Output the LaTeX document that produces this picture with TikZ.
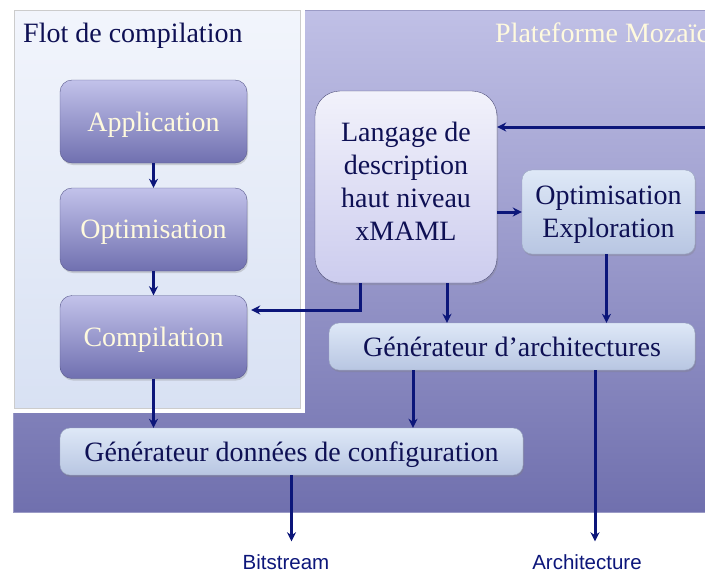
\documentclass[tikz,border=0pt]{standalone}
\usepackage{fontspec}
\setmainfont{Liberation Serif}
\newfontfamily\labelfont{Liberation Sans}
\usetikzlibrary{arrows.meta,shadows}

\definecolor{navy}{RGB}{12,22,122}
\definecolor{inktext}{RGB}{14,16,84}
\definecolor{cream}{RGB}{255,250,222}
\definecolor{platTop}{RGB}{192,192,230}
\definecolor{platBot}{RGB}{112,112,174}
\definecolor{flotTop}{RGB}{242,245,252}
\definecolor{flotBot}{RGB}{216,225,243}
\definecolor{purpTop}{RGB}{194,194,234}
\definecolor{purpBot}{RGB}{112,112,176}
\definecolor{lilaTop}{RGB}{242,242,251}
\definecolor{lilaBot}{RGB}{204,204,238}
\definecolor{blueTop}{RGB}{222,232,247}
\definecolor{blueBot}{RGB}{184,198,226}

\tikzset{
  boxfont/.style={font=\fontsize{28}{33}\selectfont},
  purplebox/.style={rectangle, rounded corners=12pt, draw=purpBot!80!black,
    top color=purpTop, bottom color=purpBot, text=cream, boxfont, text depth=0pt,
    minimum width=187pt, minimum height=83pt,
    drop shadow={opacity=0.3, shadow xshift=1pt, shadow yshift=-2pt}},
  bluebox/.style={rectangle, rounded corners=10pt, draw=blueBot!85!black,
    top color=blueTop, bottom color=blueBot, text=inktext, boxfont, text depth=0pt,
    drop shadow={opacity=0.3, shadow xshift=1pt, shadow yshift=-2pt}},
  flow/.style={draw=navy, line width=3pt, -{Stealth[length=9pt,width=9pt]}},
  plain/.style={draw=navy, line width=3pt},
  outlabel/.style={text=navy, font=\labelfont\fontsize{20.5}{22}\selectfont, inner sep=0pt}
}

\begin{document}
\begin{tikzpicture}[x=1pt,y=-1pt]
    \useasboundingbox (0,0) rectangle (705,574);
    \clip (0,0) rectangle (705,574);

    % 平台背景
    \fill[top color=platTop, bottom color=platBot] (13,10) rectangle (730,512);
    \draw[platBot!70!white, line width=0.8pt] (13,10) rectangle (730,512);
    \node[anchor=base west, inner sep=0pt, text=cream, boxfont] (plattitle) at (495,42) {Plateforme Mozaïc};

    % 编译流程框
    \fill[white] (12,8) rectangle (305,413);
    \draw[top color=flotTop, bottom color=flotBot, draw=black!20] (14,10) rectangle (300,408);
    \node[anchor=base west, inner sep=0pt, text=inktext, boxfont] (flottitle) at (23,42) {Flot de compilation};

    % 左侧三个步骤
    \node[purplebox] (app)  at (153.5,121.5) {Application};
    \node[purplebox] (opt)  at (153.5,229.5) {Optimisation};
    \node[purplebox] (comp) at (153.5,337)   {Compilation};

    % 平台中的框
    \node[purplebox, rounded corners=25pt, top color=lilaTop, bottom color=lilaBot,
          draw=purpBot!70!black, text=inktext, align=center, text height=118pt, text depth=12pt,
          minimum width=182pt, minimum height=192pt] (lang) at (406,187)
          {Langage de\\description\\haut niveau\\xMAML};
    \node[bluebox, align=center, minimum width=173pt, minimum height=84pt] (optexp) at (608.5,212)
          {Optimisation\\Exploration};
    \node[bluebox, minimum width=366pt, minimum height=47pt] (genarch) at (512,346.5)
          {Générateur d’architectures};
    \node[bluebox, minimum width=463pt, minimum height=47pt] (gendon) at (291.5,451.5)
          {Générateur données de configuration};

    % 输出标签
    \node[outlabel] (bitlbl)  at (286,562) {Bitstream};
    \node[outlabel] (archlbl) at (587,562) {Architecture};

    % 右侧回路端点
    \coordinate (fbin)  at (720,127);
    \coordinate (fbout) at (720,212);

    % 箭头
    \draw[flow] (app) -- (opt);
    \draw[flow] (opt) -- (comp);
    \draw[flow] (comp.south) -- (comp.south |- gendon.north);
    \draw[flow] (fbin) -- (fbin -| lang.east);
    \draw[flow] (lang.east |- optexp) -- (optexp.west);
    \draw[plain] (optexp.east) -- (fbout);
    \draw[flow] ([xshift=-46pt]lang.south) |- ([yshift=27pt,xshift=4pt]comp.east);
    \draw[flow] ([xshift=41pt]lang.south) -- ([xshift=41pt]lang.south |- genarch.north);
    \draw[flow] ([xshift=-2pt]optexp.south) -- ([xshift=-2pt]optexp.south |- genarch.north);
    \draw[flow] ([xshift=-99pt]genarch.south) -- ([xshift=-99pt]genarch.south |- gendon.north);
    \draw[flow, shorten >=13pt] ([xshift=83pt]genarch.south) -- ([xshift=83pt]genarch.south |- archlbl.north);
    \draw[flow, shorten >=13pt] (gendon.south) -- (gendon.south |- bitlbl.north);
\end{tikzpicture}
\end{document}
